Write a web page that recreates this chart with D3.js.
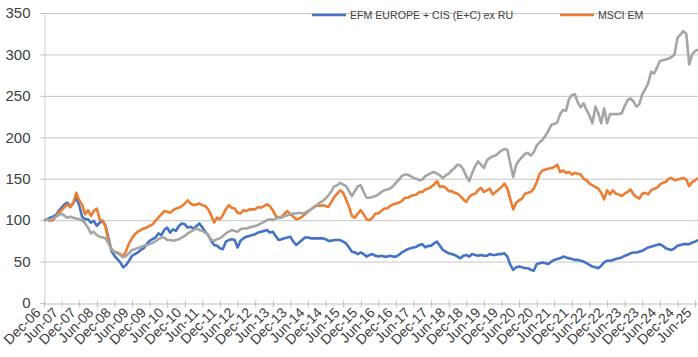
<!DOCTYPE html>
<html><head><meta charset="utf-8">
<script src="https://cdn.jsdelivr.net/npm/d3@7"></script>
<style>body{margin:0;background:#fff} svg{display:block}</style>
</head><body>
<svg id="chart" width="698" height="357"></svg>
<script>
// ---- data (monthly, index 0 = Dec-06) ----
const startMonth = "Dec-06";
const tickLabels = ["Dec-06","Jun-07","Dec-07","Jun-08","Dec-08","Jun-09","Dec-09","Jun-10","Dec-10","Jun-11","Dec-11","Jun-12","Dec-12","Jun-13","Dec-13","Jun-14","Dec-14","Jun-15","Dec-15","Jun-16","Dec-16","Jun-17","Dec-17","Jun-18","Dec-18","Jun-19","Dec-19","Jun-20","Dec-20","Jun-21","Dec-21","Jun-22","Dec-22","Jun-23","Dec-23","Jun-24","Dec-24","Jun-25"];
const yTicks = [0,50,100,150,200,250,300,350];
const legendNames = ["EFM EUROPE + CIS (E+C) ex RU","MSCI EM"];

const efmEurope = [
100,101,103,104,106,111,115,119,121,116,121,127,
118,104,101,101,97,99,93,97,99,93,78,63,
57,53,49,43,46,51,57,59,61,64,66,71,
75,77,79,84,82,88,91,85,89,87,93,96,
95,91,92,90,93,96,91,86,82,75,70,69,
66,65,74,76,77,76,67,75,78,80,81,82,
83,85,86,87,88,85,86,81,76,77,78,79,
80,74,70,73,76,79,79,78,78,78,78,78,
77,75,75,76,76,76,74,72,67,62,61,59,
61,59,56,58,59,57,56,57,56,56,57,56,
56,58,61,63,65,66,67,68,70,71,67,69,
69,72,74,69,64,62,60,59,58,56,54,57,
58,56,59,58,57,58,57,57,59,58,58,59,
59,60,56,46,40,43,44,43,42,42,40,39,
47,48,49,48,47,50,52,53,54,56,55,54,
53,52,52,51,50,48,46,44,43,42,45,49,
51,51,52,53,54,55,57,58,60,61,61,62,
63,65,67,68,69,70,71,69,66,65,64,66,
69,70,71,71,71,73,74,76];

const msciEm = [
100,101,99,100,104,109,112,116,119,116,121,133,
124,119,107,112,105,111,114,101,99,92,74,65,
62,61,59,56,63,72,78,83,86,88,90,91,
93,95,99,103,107,111,110,109,112,114,115,117,
120,124,120,118,119,120,118,117,113,106,97,103,
101,106,113,118,115,114,109,108,112,111,113,113,
113,116,115,117,119,117,112,105,103,104,108,111,
107,104,101,102,104,107,110,113,116,118,117,118,
117,116,122,128,132,136,133,125,116,105,103,108,
112,107,101,100,103,108,108,111,114,114,117,119,
120,121,123,127,127,129,130,131,134,134,137,138,
140,143,147,140,141,139,135,135,133,132,129,125,
122,128,131,132,136,139,134,136,138,131,134,137,
140,144,138,125,113,121,124,126,132,133,134,138,
146,156,160,161,162,163,164,167,158,160,157,158,
155,157,156,155,150,148,144,142,140,138,133,125,
136,131,136,132,131,129,132,134,137,131,128,126,
132,133,131,136,138,139,143,145,146,150,151,148,
149,150,151,149,141,146,148,151];

const thirdIndex = [
100,101,100,102,104,106,108,105,103,104,103,102,
101,100,96,91,84,86,82,80,79,78,72,65,
61,60,58,55,57,60,64,65,66.5,67.5,69,70,
71,72.5,74.5,77,79,79,76,76,75,76,77,79,
81,84,86,88,90,88,87,85,82,76,75,77,
78,81,84,86,88,87,86,89,90,90,91,92,
93,94,96,98,100,101,100,102,103,103,105,106,
107,108,108,109,108,109,111,113,115,118,121,123,
126,130,135,141,142,145,143,141,135,129,135,141,
142,134,127,127,128,129,131,134,136,137,138,141,
145,149,153,155,155,153,151,150,148,149,153,155,
157,158,156,154,151,154,156,160,163,167,166,161,
153,147,157,165,171,167,163,172,175,177,178,181,
184,186,185,168,152,167,172,176,180,181,178,182,
190,194,197,202,208,215,216,218,228,233,232,246,
251,252,242,236,241,233,226,217,237,229,217,235,
217,228,228,228,228,229,238,245,247,243,237,240,
252,258,265,279,277,284,292,293,294,295,297,300,
320,324,328,325,288,300,304,306];

// ---- chart ----
const svg = d3.select("#chart");
const x = d3.scaleLinear().domain([0, 223]).range([44, 698]);
const y = d3.scaleLinear().domain([0, 350]).range([303, 13]);
const font = "'Liberation Sans', Arial, sans-serif";

// gridlines
svg.append("g").selectAll("line").data(yTicks.filter(d => d > 0)).join("line")
  .attr("x1", 44).attr("x2", 698)
  .attr("y1", d => y(d) + 0.5).attr("y2", d => y(d) + 0.5)
  .attr("stroke", "#c6c6c6").attr("stroke-width", 1);

// y axis
const yAxis = svg.append("g").attr("transform", "translate(44.5,0)")
  .call(d3.axisLeft(y).tickValues(yTicks).tickSize(4).tickPadding(10));
yAxis.select(".domain").attr("stroke", "#cfcfcf");
yAxis.selectAll(".tick line").attr("stroke", "#bfbfbf");
yAxis.selectAll("text").attr("font-family", font).attr("font-size", 15).attr("fill", "#404040");

// x axis
const xTickVals = tickLabels.map((d, i) => i * 6);
const xAxis = svg.append("g").attr("transform", "translate(0,303.5)")
  .call(d3.axisBottom(x).tickValues(xTickVals).tickSizeInner(4).tickSizeOuter(0)
    .tickFormat((d, i) => tickLabels[i]));
xAxis.select(".domain").attr("stroke", "#bfbfbf");
xAxis.selectAll(".tick line").attr("stroke", "#bfbfbf").attr("y1", -3);
xAxis.selectAll(".tick text")
  .attr("font-family", font).attr("font-size", 14).attr("fill", "#404040")
  .attr("text-anchor", "end").attr("dy", null).attr("y", 0)
  .attr("transform", "translate(-3,10) rotate(-45)");

// lines
const line = d3.line().x((d, i) => x(i)).y(d => y(d)).curve(d3.curveLinear);
const series = [
  {vals: efmEurope, color: "#4472C4"},
  {vals: msciEm, color: "#ED7D31"},
  {vals: thirdIndex, color: "#A5A5A5"}
];
svg.append("g").selectAll("path").data(series).join("path")
  .attr("d", d => line(d.vals))
  .attr("fill", "none").attr("stroke", d => d.color)
  .attr("stroke-width", 2.6).attr("stroke-linejoin", "round");

// legend
const legend = [
  {name: legendNames[0], color: "#4472C4", x: 312},
  {name: legendNames[1], color: "#ED7D31", x: 560}
];
const lg = svg.append("g").selectAll("g").data(legend).join("g")
  .attr("transform", d => `translate(${d.x},15)`);
lg.append("line").attr("x1", 0).attr("x2", 34).attr("y1", 0).attr("y2", 0)
  .attr("stroke", d => d.color).attr("stroke-width", 2.6);
lg.append("text").attr("x", 38).attr("y", 4)
  .attr("font-family", font).attr("font-size", 10.6).attr("fill", "#404040")
  .text(d => d.name);
</script>
</body></html>
